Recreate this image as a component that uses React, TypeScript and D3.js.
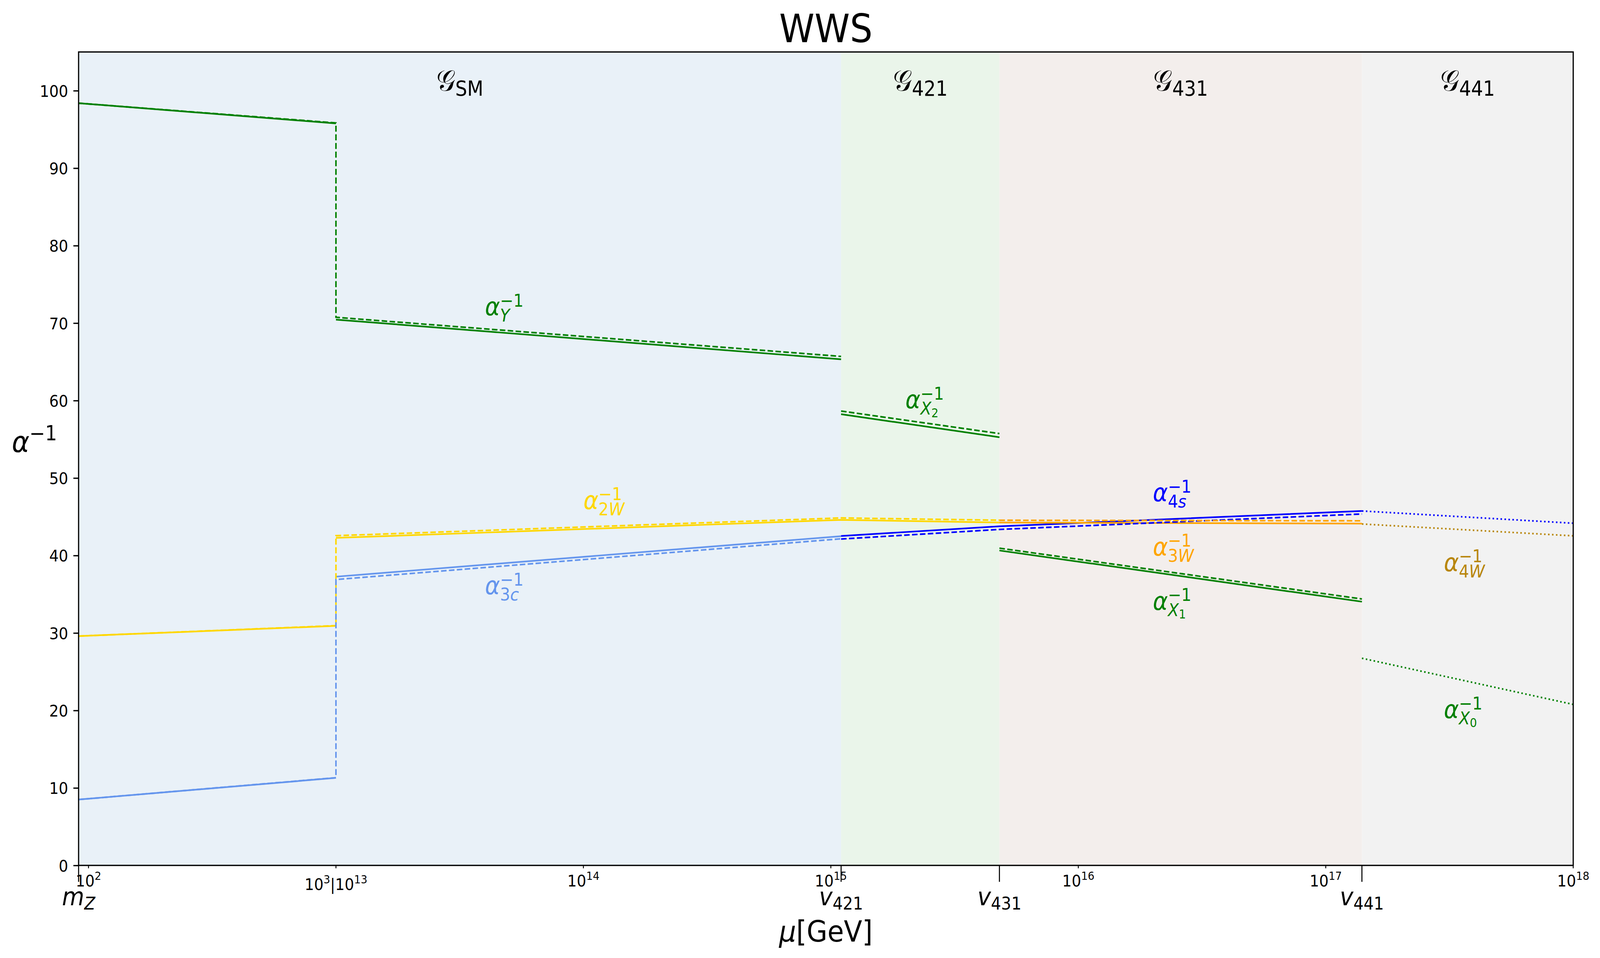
import { useEffect, useRef } from "react"
import * as d3 from "d3"

// symmetry breaking scales, GeV
const MZ = 91.1876
const V421 = 1.1e15
const V431 = 4.8e15
const V441 = 1.4e17

// inverse couplings (solid / dashed / dotted)
const muLow = [MZ, 1e3]
const aYLow = [98.39, 95.78]
const a2WLow = [29.6, 30.92]
const a3cLow = [8.5, 11.3]

const muSM = [1e13, V421]
const aYSM = [70.45, 65.33]
const a3cSM = [37.27, 42.5]

const mu2W = [1e13, V421, V431]
const a2W = [42.28, 44.6, 44.26]

const mu421 = [V421, V431]
const aX2 = [58.24, 55.27]

const mu4s = [V421, V431, V441]
const a4s = [42.52, 43.77, 45.75]

const mu431 = [V431, V441]
const a3W = [44.26, 44.12]
const aX1 = [40.65, 34.04]

// dashed
const muDashSM = [MZ, 1e3, 1e13, V421]
const aYDash = [98.39, 95.84, 70.75, 65.7]
const a3cDash = [8.5, 11.32, 36.9, 42.16]
const muDash2W = [MZ, 1e3, 1e13, V421, V431]
const a2WDash = [29.6, 30.95, 42.56, 44.85, 44.56]
const aX2Dash = [58.65, 55.74]
const a4sDash = [42.13, 43.37, 45.36]
const a3WDash = [44.55, 44.48]
const aX1Dash = [40.95, 34.39]

// dotted, above v441
const mu441 = [V441, 1e18]
const a4Dot = [45.75, 44.17]
const a4WDot = [44.07, 42.54]
const aX0Dot = [26.74, 20.78]

// curve labels
const couplingNames = ["Y", "X_2", "2W", "3c", "4s", "3W", "X_1", "4W", "X_0"]
const couplingMu = [4e13, 2e15, 1e14, 4e13, 2e16, 2e16, 2e16, 3e17, 3e17]
const couplingAt = [71, 59, 46, 35, 47, 40, 33, 38, 19]

// axes
const yTicks = d3.range(0, 101, 10)
const xTicks = [1e2, 1e3, 1e14, 1e15, 1e16, 1e17, 1e18]
const xTickExp = [["2"], ["3", "13"], ["14"], ["15"], ["16"], ["17"], ["18"]]
const scaleTicks = [MZ, V421, V431, V441]
const scaleNames = [["m", "Z"], ["v", "421"], ["v", "431"], ["v", "441"]]
const groupNames = ["SM", "421", "431", "441"]
const groupEdges = [MZ, V421, V431, V441, 1e18]

const COL = {
  Y: "green", X_2: "green", X_1: "green", X_0: "green",
  "2W": "gold", "3c": "cornflowerblue", "4s": "blue", "3W": "orange", "4W": "darkgoldenrod",
}
const bgColors = ["#e9f1f8", "#eaf5ea", "#f3eeec", "#f2f2f2"]

const W = 4479, H = 2452
const M = { left: 220, top: 133, right: 75, bottom: 237 }
const PW = W - M.left - M.right
const PH = H - M.top - M.bottom
const LW = 4.2
const DASH = "15.4,6.7"
const DOT = "4.2,6.9"

type Run = { t: string; it?: boolean; s?: number; dy?: number; mark?: boolean; stack?: boolean }

// crude mathtext: base + sub/superscripts, measured in the browser
function mathText(parent: any, runs: Run[], x: number, y: number, size: number, color: string, anchor: "start" | "middle") {
  const grp = parent.append("g").attr("fill", color)
  let cursor = 0, markX = 0
  runs.forEach(r => {
    if (r.mark) markX = cursor
    const x0 = r.stack ? markX : cursor
    const node = grp.append("text")
      .attr("x", x0)
      .attr("y", (r.dy ?? 0) * size)
      .attr("font-size", size * (r.s ?? 1))
      .attr("font-style", r.it ? "italic" : "normal")
      .text(r.t)
    const w = (node.node() as SVGTextElement).getComputedTextLength()
    cursor = r.stack ? Math.max(cursor, x0 + w) : x0 + w
  })
  const off = anchor === "middle" ? -cursor / 2 : 0
  grp.attr("transform", `translate(${x + off},${y})`)
}

const sup = (t: string): Run => ({ t, s: 0.7, dy: -0.4 })

function couplingRuns(name: string): Run[] {
  const runs: Run[] = [{ t: "α", it: true }]
  if (name.includes("_")) {
    const [a, b] = name.split("_")
    runs.push({ t: a, it: true, s: 0.7, dy: 0.25, mark: true })
    runs.push({ t: b, s: 0.49, dy: 0.35 })
  } else {
    name.split("").forEach((c, i) => {
      runs.push({ t: c, it: /[a-zA-Z]/.test(c), s: 0.7, dy: 0.25, mark: i === 0 })
    })
  }
  runs.push({ t: "−1", s: 0.7, dy: -0.35, stack: true })
  return runs
}

export default function App() {
  const svgRef = useRef<SVGSVGElement>(null)

  useEffect(() => {
    if (!svgRef.current) return
    const svg = d3.select(svgRef.current)
    svg.selectAll("*").remove()

    const tLow = Math.log10(1e3) - Math.log10(MZ)
    const xBreak = PW * tLow / (tLow + 5)
    const xLow = d3.scaleLog().domain([MZ, 1e3]).range([0, xBreak])
    const xHigh = d3.scaleLog().domain([1e13, 1e18]).range([xBreak, PW])
    const x = (mu: number) => (mu <= 1e3 ? xLow(mu) : xHigh(mu))
    const y = d3.scaleLinear().domain([0, 105]).range([PH, 0])

    const plot = svg.append("g").attr("transform", `translate(${M.left},${M.top})`)

    // shaded regions for each gauge group
    plot.selectAll("rect.bg").data(groupNames).enter().append("rect")
      .attr("class", "bg")
      .attr("x", (_, i) => x(groupEdges[i]))
      .attr("y", 0)
      .attr("width", (_, i) => x(groupEdges[i + 1]) - x(groupEdges[i]))
      .attr("height", PH)
      .attr("fill", (_, i) => bgColors[i])

    const lines = [
      { mu: muLow, a: aYLow, c: COL.Y, d: null },
      { mu: muLow, a: a2WLow, c: COL["2W"], d: null },
      { mu: muLow, a: a3cLow, c: COL["3c"], d: null },
      { mu: muSM, a: aYSM, c: COL.Y, d: null },
      { mu: mu2W, a: a2W, c: COL["2W"], d: null },
      { mu: muSM, a: a3cSM, c: COL["3c"], d: null },
      { mu: mu421, a: aX2, c: COL.X_2, d: null },
      { mu: mu4s, a: a4s, c: COL["4s"], d: null },
      { mu: mu431, a: a3W, c: COL["3W"], d: null },
      { mu: mu431, a: aX1, c: COL.X_1, d: null },
      { mu: muDashSM, a: aYDash, c: COL.Y, d: DASH },
      { mu: muDash2W, a: a2WDash, c: COL["2W"], d: DASH },
      { mu: muDashSM, a: a3cDash, c: COL["3c"], d: DASH },
      { mu: mu421, a: aX2Dash, c: COL.X_2, d: DASH },
      { mu: mu4s, a: a4sDash, c: COL["4s"], d: DASH },
      { mu: mu431, a: a3WDash, c: COL["3W"], d: DASH },
      { mu: mu431, a: aX1Dash, c: COL.X_1, d: DASH },
      { mu: mu441, a: a4Dot, c: COL["4s"], d: DOT },
      { mu: mu441, a: a4WDot, c: COL["4W"], d: DOT },
      { mu: mu441, a: aX0Dot, c: COL.X_0, d: DOT },
    ]

    const line = d3.line<[number, number]>().x(d => x(d[0])).y(d => y(d[1]))
    plot.selectAll("path.curve").data(lines).enter().append("path")
      .attr("class", "curve")
      .attr("d", d => line(d.mu.map((m, i) => [m, d.a[i]] as [number, number])))
      .attr("fill", "none")
      .attr("stroke", d => d.c)
      .attr("stroke-width", LW)
      .attr("stroke-dasharray", d => d.d)

    // y axis
    const yAxis = plot.append("g")
      .call(d3.axisLeft(y).tickValues(yTicks).tickSize(14.6).tickPadding(14.6).tickSizeOuter(0))
    yAxis.select(".domain").remove()
    yAxis.selectAll("line").attr("stroke-width", 3.3)
    yAxis.selectAll("text").attr("font-size", 41.7).attr("font-family", "DejaVu Sans").attr("dy", "0.36em")

    // x ticks: decades (short) and breaking scales (long)
    plot.selectAll("line.xt").data(xTicks).enter().append("line")
      .attr("x1", d => x(d)).attr("x2", d => x(d))
      .attr("y1", PH).attr("y2", PH + 7.4)
      .attr("stroke", "black").attr("stroke-width", 2.6)
    plot.selectAll("line.st").data(scaleTicks).enter().append("line")
      .attr("x1", d => x(d)).attr("x2", d => x(d))
      .attr("y1", PH).attr("y2", PH + 42)
      .attr("stroke", "black").attr("stroke-width", 2.9)

    // frame
    plot.append("rect")
      .attr("x", 0).attr("y", 0).attr("width", PW).attr("height", PH)
      .attr("fill", "none").attr("stroke", "black").attr("stroke-width", 3.3)

    const root = svg.append("g").attr("font-family", "DejaVu Sans")

    xTicks.forEach((t, i) => {
      const e = xTickExp[i]
      const runs: Run[] = [{ t: "10" }, sup(e[0])]
      if (e.length > 1) runs.push({ t: "|10" }, sup(e[1]))
      mathText(root, runs, M.left + x(t), e.length > 1 ? 2278 : 2269, 41.7, "black", "middle")
    })

    scaleTicks.forEach((t, i) => {
      const [b, s] = scaleNames[i]
      mathText(root, [{ t: b, it: true }, { t: s, it: /[A-Za-z]/.test(s), s: 0.7, dy: 0.17 }],
        M.left + x(t), 2317, 64, "black", "middle")
    })

    groupNames.forEach((n, i) => {
      const cx = M.left + (x(groupEdges[i]) + x(groupEdges[i + 1])) / 2
      mathText(root, [{ t: "𝒢" }, { t: n, s: 0.7, dy: 0.17 }], cx, M.top + y(100), 75, "black", "middle")
    })

    couplingNames.forEach((n, i) => {
      mathText(root, couplingRuns(n), M.left + x(couplingMu[i]), M.top + y(couplingAt[i]), 64,
        (COL as any)[n], "start")
    })

    // titles
    root.append("text").attr("x", M.left + PW / 2).attr("y", 108)
      .attr("text-anchor", "middle").attr("font-size", 100).text("WWS")
    mathText(root, [{ t: "μ", it: true }, { t: "[GeV]" }], M.left + PW / 2, 2410, 75, "black", "middle")
    mathText(root, [{ t: "α", it: true }, sup("−1")], 33, 1157, 75, "black", "start")
  }, [])

  // the window may be narrower than the figure: stretch the figure to fill it
  return (
    <div style={{ position: "fixed", left: 0, top: 0, width: "100vw", height: "100vh", background: "#ffffff" }}>
      <svg
        ref={svgRef}
        viewBox={`0 0 ${W} ${H}`}
        preserveAspectRatio="none"
        style={{ display: "block", width: "100%", height: "100%" }}
        fontFamily="DejaVu Sans"
        xmlns="http://www.w3.org/2000/svg"
      ></svg>
    </div>
  )
}
